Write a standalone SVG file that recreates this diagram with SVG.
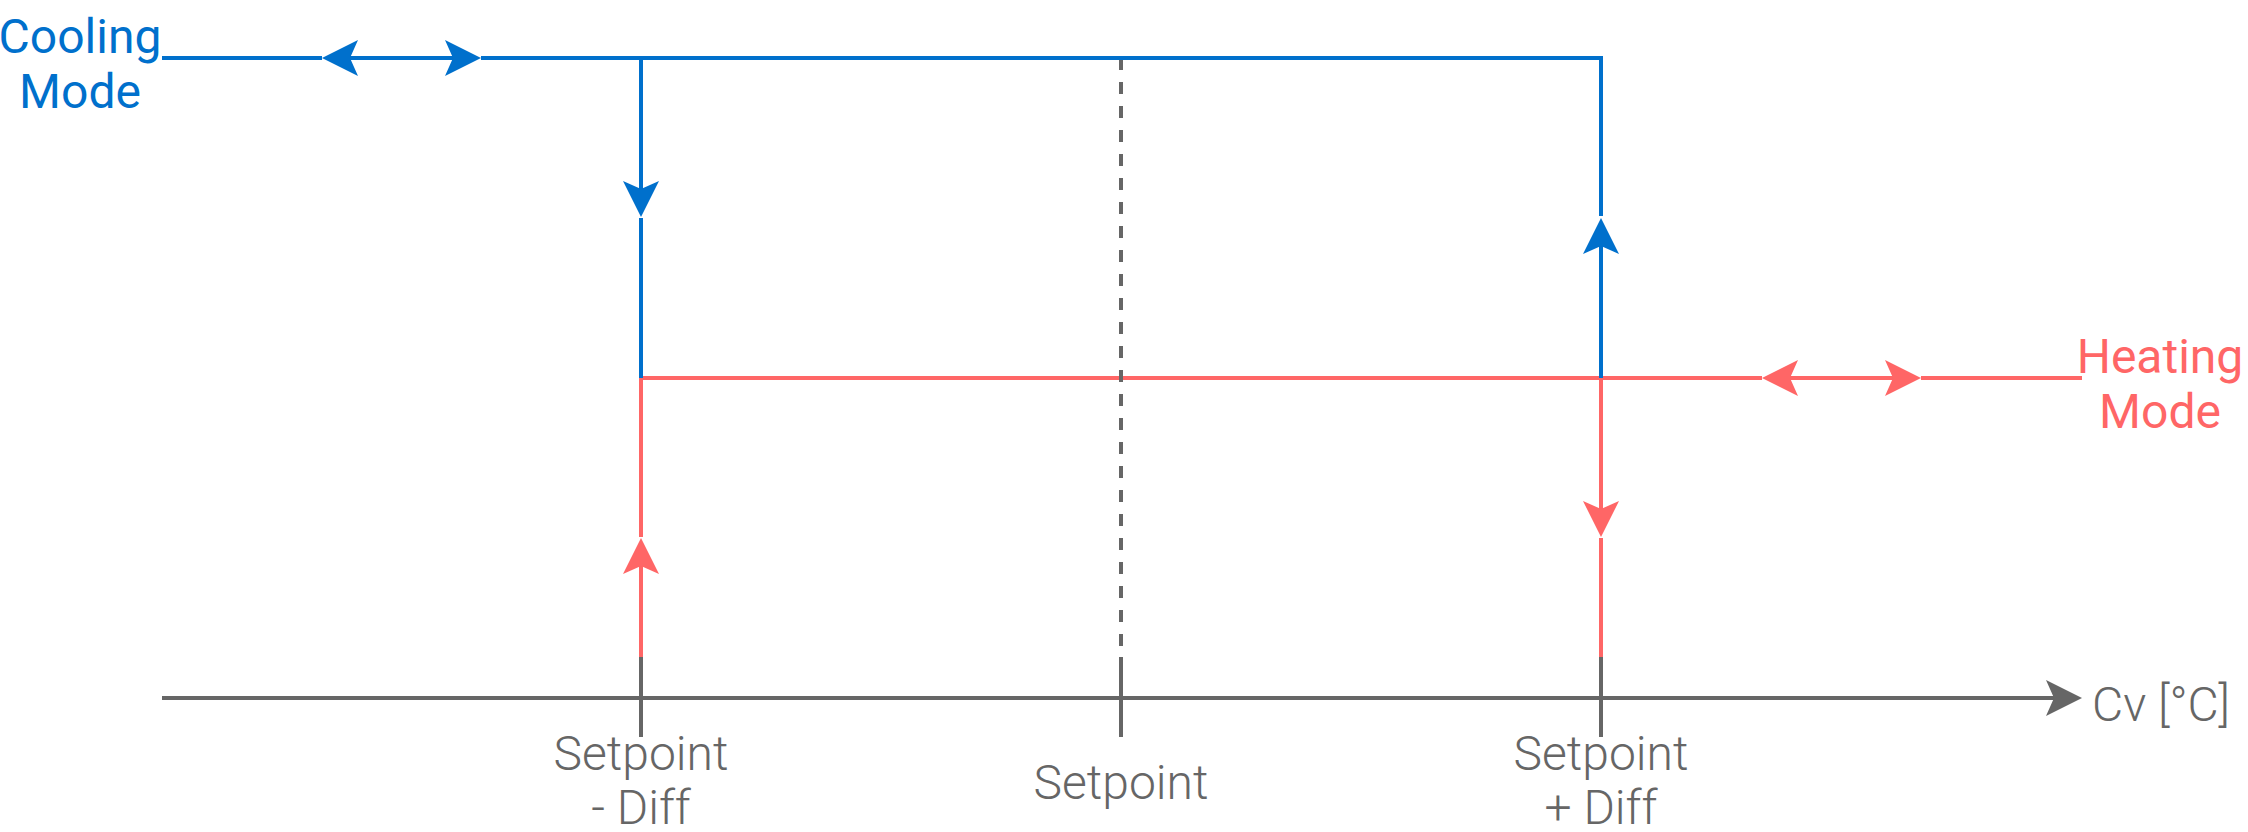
<svg xmlns="http://www.w3.org/2000/svg" width="2248" height="832" viewBox="0 0 2248 832">
<style>
.ln{fill:none;stroke-width:4;stroke-linecap:butt;stroke-linejoin:miter}
.blue{stroke:#0070CC}
.red{stroke:#FF6666}
.grey{stroke:#666666}
.dash{stroke-dasharray:12 12}
.t{font-family:Roboto,"Liberation Sans",sans-serif;font-size:48px;text-anchor:middle}
.tb{fill:#0070CC}
.tr{fill:#FF6666}
.tg{fill:#666666;font-weight:300}
</style>
<defs>
<marker id="ab" markerUnits="userSpaceOnUse" orient="auto-start-reverse" refX="0" refY="0" markerWidth="40" markerHeight="40" overflow="visible"><path d="M28,0 L-8,-18 L0,0 L-8,18 Z" fill="#0070CC"/></marker>
<marker id="ar" markerUnits="userSpaceOnUse" orient="auto-start-reverse" refX="0" refY="0" markerWidth="40" markerHeight="40" overflow="visible"><path d="M28,0 L-8,-18 L0,0 L-8,18 Z" fill="#FF6666"/></marker>
<marker id="ag" markerUnits="userSpaceOnUse" orient="auto" refX="0" refY="0" markerWidth="40" markerHeight="40" overflow="visible"><path d="M28,0 L-8,-18 L0,0 L-8,18 Z" fill="#666666"/></marker>
</defs>
<rect width="2248" height="832" fill="#FFFFFF"/>
<g id="connectors">
<path class="ln grey" d="M162,698 H2054" marker-end="url(#ag)"/>
<path class="ln grey" d="M641,657 V737 M1121,657 V737 M1601,657 V737"/>
<path class="ln red" d="M641,378 H1762"/>
<path class="ln red" d="M1790,378 H1893" marker-start="url(#ar)" marker-end="url(#ar)"/>
<path class="ln red" d="M1921,378 H2082"/>
<path class="ln red" d="M641,657 V566" marker-end="url(#ar)"/>
<path class="ln red" d="M641,537 V378"/>
<path class="ln red" d="M1601,378 V509" marker-end="url(#ar)"/>
<path class="ln red" d="M1601,538 V657"/>
<path class="ln grey dash" d="M1121,58 V657"/>
<path class="ln blue" d="M162,58 H322"/>
<path class="ln blue" d="M350,58 H453" marker-start="url(#ab)" marker-end="url(#ab)"/>
<path class="ln blue" d="M481,58 H1601 V216"/>
<path class="ln blue" d="M1601,378 V246" marker-end="url(#ab)"/>
<path class="ln blue" d="M641,58 V189" marker-end="url(#ab)"/>
<path class="ln blue" d="M641,218 V378"/>
</g>
<g id="cooling-mode"><text class="t tb" x="80" y="53">Cooling</text><text class="t tb" x="80" y="108">Mode</text></g>
<g id="heating-mode"><text class="t tr" x="2160" y="373">Heating</text><text class="t tr" x="2160" y="428">Mode</text></g>
<g id="setpoint-minus"><text class="t tg" x="641" y="770">Setpoint</text><text class="t tg" x="641" y="824">- Diff</text></g>
<g id="setpoint"><text class="t tg" x="1121" y="799">Setpoint</text></g>
<g id="setpoint-plus"><text class="t tg" x="1601" y="770">Setpoint</text><text class="t tg" x="1601" y="824">+ Diff</text></g>
<g id="axis-label"><text class="t tg" x="2092" y="721" style="text-anchor:start">Cv [°C]</text></g>
</svg>
